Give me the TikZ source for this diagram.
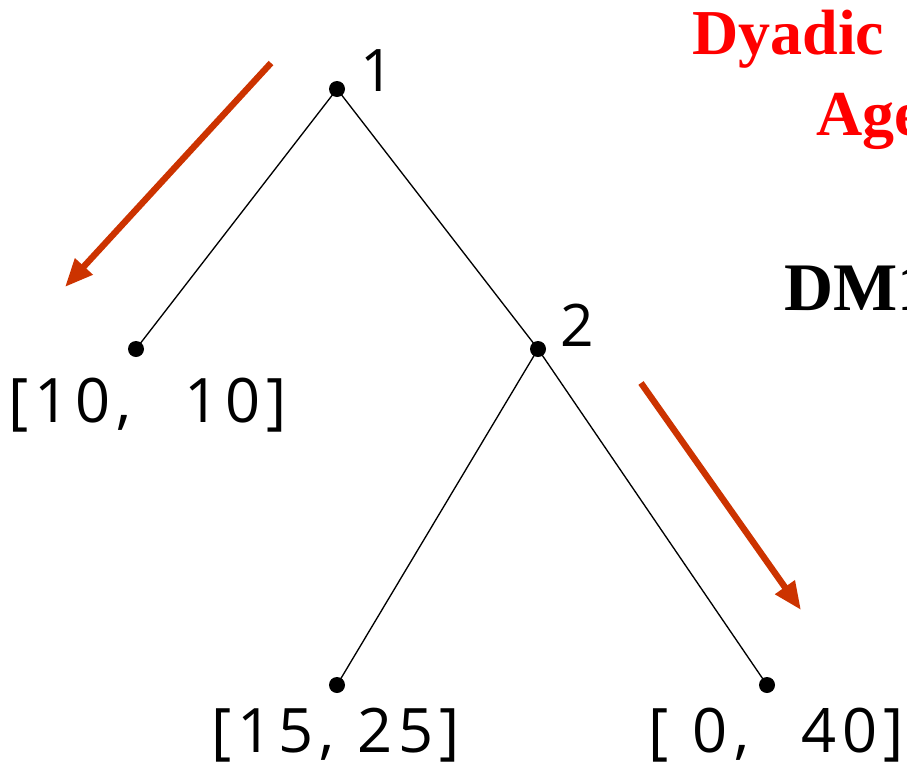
\documentclass[tikz,border=0pt]{standalone}
\usepackage{fontspec}
\setmainfont{Liberation Serif}
\newfontfamily\labfont[LetterSpace=10]{Open Sans}
\newfontfamily\numfont{Open Sans}
\usetikzlibrary{arrows.meta}
\definecolor{arrowred}{RGB}{204,51,0}
\definecolor{titlered}{RGB}{255,0,0}
\begin{document}
\begin{tikzpicture}[x=0.75pt,y=-0.75pt,
  dot/.style={circle,fill=black,inner sep=0pt,minimum size=12pt},
  edge/.style={line width=1pt,black},
  bigarrow/.style={arrowred,line width=4.8pt,-{Triangle[length=21pt,width=17pt]}},
  lab/.style={font=\labfont\fontsize{46}{50}\selectfont,inner sep=0pt,anchor=base west},
  num/.style={font=\numfont\fontsize{44}{48}\selectfont,inner sep=0pt,anchor=base west},
  title/.style={font=\bfseries\fontsize{48}{52}\selectfont,text=titlered,inner sep=0pt,anchor=base west},
  dm/.style={font=\bfseries\fontsize{51}{55}\selectfont,text=black,inner sep=0pt,anchor=base west}]
\useasboundingbox (0,0) rectangle (907,768);
\clip (0,0) rectangle (907,768);
\node[dot] (n1) at (337,89) {};
\node[dot] (l1) at (136,349) {};
\node[dot] (n2) at (538,349) {};
\node[dot] (l2) at (337,685) {};
\node[dot] (l3) at (767,685) {};
\draw[edge] (n1.center) -- (l1.center);
\draw[edge] (n1.center) -- (n2.center);
\draw[edge] (n2.center) -- (l2.center);
\draw[edge] (n2.center) -- (l3.center);
\node[num] (t1) at (360,91) {1};
\node[num] (t2) at (560,346) {2};
\node[lab] (v1) at (8,422) {[10,\hspace{0.85em}10]};
\node[lab] (v2) at (211,752) {[15, 25]};
\node[lab] (v3) at (648,752) {[\hspace{0.4em}0,\hspace{0.85em}40]};
\coordinate (a1s) at (271,63);
\coordinate (a1e) at (65,287);
\coordinate (a2s) at (641,383);
\coordinate (a2e) at (801,610);
\draw[bigarrow] (a1s) -- (a1e);
\draw[bigarrow] (a2s) -- (a2e);
\node[title] (tt1) at (692,54) {Dyadic};
\node[title] (tt2) at (816,135) {Age};
\node[dm] (dm1) at (784,310) {DM1};
\end{tikzpicture}
\end{document}
